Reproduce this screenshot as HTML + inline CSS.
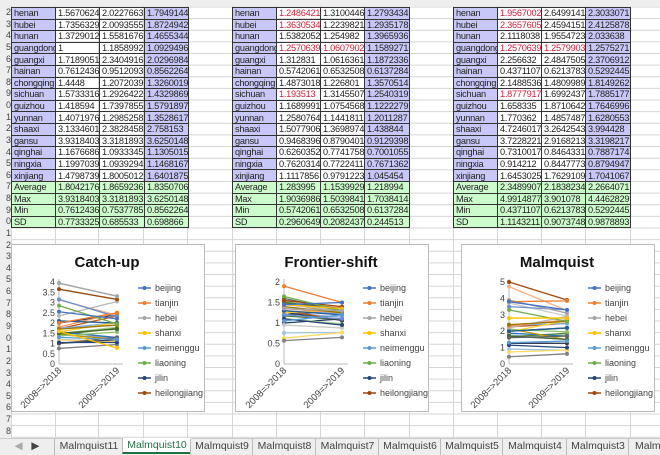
<!DOCTYPE html><html><head><meta charset="utf-8"><style>
body{margin:0;width:660px;height:454px;overflow:hidden;background:#fff;font-family:"Liberation Sans",sans-serif;position:relative}
.g{position:absolute;left:0;top:0}
table{position:absolute;border-collapse:collapse;font-size:9.2px;letter-spacing:-0.25px;color:#222;table-layout:fixed;width:177px}
td{border:1px solid #333;height:10.6px;padding:0 0 0 2px;line-height:10px;white-space:nowrap;overflow:hidden}
.p{background:#c8c8f8}.s{background:#ccfccc}.r{color:#d0203a}
.rn{position:absolute;left:0;width:11px;background:#eee;font-size:9px;color:#444;text-align:right;overflow:hidden}
.tabs{position:absolute;left:0;top:438px;width:660px;height:16px;background:#eeeeee;border-top:1px solid #ccc;font-size:10.5px;color:#444}
.tab{position:absolute;top:0;height:16px;line-height:15px;text-align:center;border-left:1px solid #bbb}
</style></head><body>
<svg class="g" width="660" height="454" id="grid"></svg>
<div id="rn"></div>

<table style="left:11px;top:7px"><colgroup><col style="width:44px"><col style="width:44px"><col style="width:45px"><col style="width:44px"></colgroup>
<tr><td class="p">henan</td><td>1.5670624</td><td>2.0227663</td><td class="p">1.7949144</td></tr>
<tr><td class="p">hubei</td><td>1.7356329</td><td>2.0093555</td><td class="p">1.8724942</td></tr>
<tr><td class="p">hunan</td><td>1.3729012</td><td>1.5581676</td><td class="p">1.4655344</td></tr>
<tr><td class="p">guangdong</td><td>1</td><td>1.1858992</td><td class="p">1.0929496</td></tr>
<tr><td class="p">guangxi</td><td>1.7189051</td><td>2.3404916</td><td class="p">2.0296984</td></tr>
<tr><td class="p">hainan</td><td>0.7612436</td><td>0.9512093</td><td class="p">0.8562264</td></tr>
<tr><td class="p">chongqing</td><td>1.4448</td><td>1.2072039</td><td class="p">1.3260019</td></tr>
<tr><td class="p">sichuan</td><td>1.5733316</td><td>1.2926422</td><td class="p">1.4329869</td></tr>
<tr><td class="p">guizhou</td><td>1.418594</td><td>1.7397855</td><td class="p">1.5791897</td></tr>
<tr><td class="p">yunnan</td><td>1.4071976</td><td>1.2985258</td><td class="p">1.3528617</td></tr>
<tr><td class="p">shaaxi</td><td>3.1334601</td><td>2.3828458</td><td class="p">2.758153</td></tr>
<tr><td class="p">gansu</td><td>3.9318403</td><td>3.3181893</td><td class="p">3.6250148</td></tr>
<tr><td class="p">qinghai</td><td>1.1676686</td><td>1.0933345</td><td class="p">1.1305015</td></tr>
<tr><td class="p">ningxia</td><td>1.1997039</td><td>1.0939294</td><td class="p">1.1468167</td></tr>
<tr><td class="p">xinjiang</td><td>1.4798739</td><td>1.8005012</td><td class="p">1.6401875</td></tr>
<tr class="s"><td>Average</td><td>1.8042176</td><td>1.8659236</td><td>1.8350706</td></tr>
<tr class="s"><td>Max</td><td>3.9318403</td><td>3.3181893</td><td>3.6250148</td></tr>
<tr class="s"><td>Min</td><td>0.7612436</td><td>0.7537785</td><td>0.8562264</td></tr>
<tr class="s"><td>SD</td><td>0.7733325</td><td>0.685533</td><td>0.698866</td></tr>
</table>

<table style="left:232px;top:7px"><colgroup><col style="width:44px"><col style="width:44px"><col style="width:44px"><col style="width:45px"></colgroup>
<tr><td class="p">henan</td><td class="r">1.2486421</td><td>1.3100446</td><td class="p">1.2793434</td></tr>
<tr><td class="p">hubei</td><td class="r">1.3630534</td><td>1.2239821</td><td class="p">1.2935178</td></tr>
<tr><td class="p">hunan</td><td>1.5382052</td><td>1.254982</td><td class="p">1.3965936</td></tr>
<tr><td class="p">guangdong</td><td class="r">1.2570639</td><td class="r">1.0607902</td><td class="p">1.1589271</td></tr>
<tr><td class="p">guangxi</td><td>1.312831</td><td>1.0616361</td><td class="p">1.1872336</td></tr>
<tr><td class="p">hainan</td><td>0.5742061</td><td>0.6532508</td><td class="p">0.6137284</td></tr>
<tr><td class="p">chongqing</td><td>1.4873018</td><td>1.226801</td><td class="p">1.3570514</td></tr>
<tr><td class="p">sichuan</td><td class="r">1.193513</td><td>1.3145507</td><td class="p">1.2540319</td></tr>
<tr><td class="p">guizhou</td><td>1.1689991</td><td>1.0754568</td><td class="p">1.1222279</td></tr>
<tr><td class="p">yunnan</td><td>1.2580764</td><td>1.1441811</td><td class="p">1.2011287</td></tr>
<tr><td class="p">shaaxi</td><td>1.5077906</td><td>1.3698974</td><td class="p">1.438844</td></tr>
<tr><td class="p">gansu</td><td>0.9468396</td><td>0.8790401</td><td class="p">0.9129398</td></tr>
<tr><td class="p">qinghai</td><td>0.6260352</td><td>0.7741758</td><td class="p">0.7001055</td></tr>
<tr><td class="p">ningxia</td><td>0.7620314</td><td>0.7722411</td><td class="p">0.7671362</td></tr>
<tr><td class="p">xinjiang</td><td>1.1117856</td><td>0.9791223</td><td class="p">1.045454</td></tr>
<tr class="s"><td>Average</td><td>1.283995</td><td>1.1539929</td><td>1.218994</td></tr>
<tr class="s"><td>Max</td><td>1.9036986</td><td>1.5039841</td><td>1.7038414</td></tr>
<tr class="s"><td>Min</td><td>0.5742061</td><td>0.6532508</td><td>0.6137284</td></tr>
<tr class="s"><td>SD</td><td>0.2960649</td><td>0.2082437</td><td>0.244513</td></tr>
</table>

<table style="left:453px;top:7px"><colgroup><col style="width:44px"><col style="width:44px"><col style="width:44px"><col style="width:45px"></colgroup>
<tr><td class="p">henan</td><td class="r">1.9567002</td><td>2.6499141</td><td class="p">2.3033071</td></tr>
<tr><td class="p">hubei</td><td class="r">2.3657605</td><td>2.4594151</td><td class="p">2.4125878</td></tr>
<tr><td class="p">hunan</td><td>2.1118038</td><td>1.9554723</td><td class="p">2.033638</td></tr>
<tr><td class="p">guangdong</td><td class="r">1.2570639</td><td class="r">1.2579903</td><td class="p">1.2575271</td></tr>
<tr><td class="p">guangxi</td><td>2.256632</td><td>2.4847505</td><td class="p">2.3706912</td></tr>
<tr><td class="p">hainan</td><td>0.4371107</td><td>0.6213783</td><td class="p">0.5292445</td></tr>
<tr><td class="p">chongqing</td><td>2.1488536</td><td>1.4809989</td><td class="p">1.8149262</td></tr>
<tr><td class="p">sichuan</td><td class="r">1.8777917</td><td>1.6992437</td><td class="p">1.7885177</td></tr>
<tr><td class="p">guizhou</td><td>1.658335</td><td>1.8710642</td><td class="p">1.7646996</td></tr>
<tr><td class="p">yunnan</td><td>1.770362</td><td>1.4857487</td><td class="p">1.6280553</td></tr>
<tr><td class="p">shaaxi</td><td>4.7246017</td><td>3.2642543</td><td class="p">3.994428</td></tr>
<tr><td class="p">gansu</td><td>3.7228221</td><td>2.9168213</td><td class="p">3.3198217</td></tr>
<tr><td class="p">qinghai</td><td>0.7310017</td><td>0.8464331</td><td class="p">0.7887174</td></tr>
<tr><td class="p">ningxia</td><td>0.914212</td><td>0.8447773</td><td class="p">0.8794947</td></tr>
<tr><td class="p">xinjiang</td><td>1.6453025</td><td>1.7629109</td><td class="p">1.7041067</td></tr>
<tr class="s"><td>Average</td><td>2.3489907</td><td>2.1838234</td><td>2.2664071</td></tr>
<tr class="s"><td>Max</td><td>4.9914877</td><td>3.901078</td><td>4.4462829</td></tr>
<tr class="s"><td>Min</td><td>0.4371107</td><td>0.6213783</td><td>0.5292445</td></tr>
<tr class="s"><td>SD</td><td>1.1143211</td><td>0.9073748</td><td>0.9878893</td></tr>
</table>

<svg class="g" width="660" height="454" id="ch" font-family="Liberation Sans, sans-serif"></svg>

<div class="tabs">
<div class="tab" style="left:0;width:54px;border:none;color:#aaa">&#9664;&nbsp;&nbsp;&nbsp;<span style="color:#444">&#9654;</span></div>
<div class="tab" style="left:54px;width:68px">Malmquist11</div>
<div class="tab" style="left:122px;width:68px;background:#fff;color:#217346;border-bottom:2px solid #217346;height:14px;top:-1px">Malmquist10</div>
<div class="tab" style="left:190px;width:62px">Malmquist9</div>
<div class="tab" style="left:252px;width:63px">Malmquist8</div>
<div class="tab" style="left:315px;width:63px">Malmquist7</div>
<div class="tab" style="left:378px;width:62px">Malmquist6</div>
<div class="tab" style="left:440px;width:62px">Malmquist5</div>
<div class="tab" style="left:502px;width:64px">Malmquist4</div>
<div class="tab" style="left:566px;width:62px">Malmquist3</div>
<div class="tab" style="left:628px;width:40px;text-align:left;padding-left:6px">Malm</div>
</div>

<script>
var NS="http://www.w3.org/2000/svg";
function el(p,t,a){var e=document.createElementNS(NS,t);for(var k in a)e.setAttribute(k,a[k]);p.appendChild(e);return e;}
var g=document.getElementById('grid');
var xs=[11,55,98,143,187,232,276,320,364,409,453,497,541,585,630];
xs.forEach(function(x){el(g,'line',{x1:x+.5,y1:0,x2:x+.5,y2:438,stroke:'#d6d6d6'});});
el(g,'rect',{x:0,y:0,width:660,height:6,fill:'#eee'});
for(var i=0;i<38;i++){var y=7+i*11.63;el(g,'line',{x1:0,y1:y,x2:660,y2:y,stroke:'#d6d6d6'});}
el(g,'rect',{x:0,y:0,width:11,height:438,fill:'#eee'});
var rn=document.getElementById('rn'),h='';
for(var i=0;i<37;i++){h+='<div class="rn" style="top:'+(7+i*11.63)+'px;height:11px;line-height:11px">'+((22+i)%10)+'</div>';}
rn.innerHTML=h;
var cols=['#4472C4','#ED7D31','#A5A5A5','#FFC000','#5B9BD5','#70AD47','#264478','#9E480E','#636363','#997300','#255E91','#43682B','#698ED0','#F1975A','#B7B7B7','#FFCD33','#7CAFDD','#8CC168','#333F50','#C55A11','#7F7F7F','#BF9000','#2E75B6','#548235','#8FAADC','#F4B183','#C9C9C9','#FFD966','#9DC3E6','#A9D18E','#1F3864'];
var s=document.getElementById('ch');
var charts=[
{x:11,t:'Catch-up',ax:59,bx:117,max:4,step:.5,lab:['0','0.5','1','1.5','2','2.5','3','3.5','4'],lx:138,
 d:[[2.55,2.2],[2.0,2.5],[3.95,3.3],[1.6,0.78],[1.3,1.2],[2.85,1.95],[1.05,1.05],[3.65,3.15],[1.0,1.3],[1.7,1.9],[2.1,2.0],[1.5,1.7],[3.15,2.3],[1.8,2.5],[2.35,3.05],[1.57,2.02],[1.74,2.01],[1.37,1.56],[1,1.19],[1.72,2.34],[.76,.95],[1.44,1.21],[1.57,1.29],[1.42,1.74],[1.41,1.3],[3.13,2.38],[3.93,3.32],[1.17,1.09],[1.2,1.09],[1.48,1.8],[2.0,2.4]]},
{x:235,t:'Frontier-shift',ax:284,bx:342,max:2,step:.5,lab:['0','0.5','1','1.5','2'],lx:363,
 d:[[1.45,1.5],[1.9,1.5],[1.35,1.3],[1.45,1.35],[1.05,1.2],[1.65,1.3],[1.1,.95],[1.55,1.4],[1.6,1.3],[1.4,1.25],[1.3,1.2],[1.5,1.35],[1.2,1.1],[1.35,1.25],[1.45,1.3],[1.25,1.31],[1.36,1.22],[1.54,1.25],[1.26,1.06],[1.31,1.06],[.57,.65],[1.49,1.23],[1.19,1.31],[1.17,1.08],[1.26,1.14],[1.51,1.37],[.95,.88],[.63,.77],[.76,.77],[1.11,.98],[1.0,1.1]]},
{x:461,t:'Malmquist',ax:509,bx:567,max:5,step:1,lab:['0','1','2','3','4','5'],lx:588,
 d:[[3.8,3.3],[3.8,3.85],[3.9,3.1],[2.8,2.8],[1.3,1.4],[3.3,2.6],[1.15,1.0],[5.0,3.9],[1.6,1.7],[2.4,2.6],[2.0,2.2],[1.7,1.5],[3.5,3.3],[2.3,2.7],[2.2,2.9],[1.96,2.65],[2.37,2.46],[2.11,1.96],[1.26,1.26],[2.26,2.48],[.44,.62],[2.15,1.48],[1.88,1.7],[1.66,1.87],[1.77,1.49],[4.72,3.26],[3.72,2.92],[.73,.85],[.91,.84],[1.65,1.76],[2.0,2.2]]}];
var names=['beijing','tianjin','hebei','shanxi','neimenggu','liaoning','jilin','heilongjiang'];
charts.forEach(function(c){
 el(s,'rect',{x:c.x+.5,y:244.5,width:193,height:167,fill:'#fff',stroke:'#bbb'});
 var t=el(s,'text',{x:c.x+96,y:267,'text-anchor':'middle','font-size':'15','font-weight':'bold',fill:'#111'});t.textContent=c.t;
 var y0=364,y1=282,sc=(y0-y1)/c.max;
 el(s,'line',{x1:c.ax,y1:y1-3,x2:c.ax,y2:y0,stroke:'#bbb'});
 el(s,'line',{x1:c.ax,y1:y0,x2:c.bx+6,y2:y0,stroke:'#bbb'});
 c.lab.forEach(function(l,i){var y=y0-i*c.step*sc;var e=el(s,'text',{x:c.ax-4,y:y+3,'text-anchor':'end','font-size':'9',fill:'#444'});e.textContent=l;});
 [[c.ax,'2008=>2018'],[c.bx,'2009=>2019']].forEach(function(p){var e=el(s,'text',{x:p[0]+3,y:y0+7,'text-anchor':'end','font-size':'9.5',fill:'#444',transform:'rotate(-45 '+(p[0]+3)+' '+(y0+7)+')'});e.textContent=p[1];});
 for(var i=c.d.length-1;i>=0;i--){var d=c.d[i],col=cols[i];
  var ya=y0-d[0]*sc,yb=y0-d[1]*sc;
  el(s,'line',{x1:c.ax,y1:ya,x2:c.bx,y2:yb,stroke:col,'stroke-width':1.3});
  el(s,'circle',{cx:c.ax,cy:ya,r:2,fill:col});el(s,'circle',{cx:c.bx,cy:yb,r:2,fill:col});}
 names.forEach(function(n,i){var y=288+i*15;
  el(s,'line',{x1:c.lx,y1:y,x2:c.lx+13,y2:y,stroke:cols[i],'stroke-width':1.5});
  el(s,'circle',{cx:c.lx+6.5,cy:y,r:2,fill:cols[i]});
  var e=el(s,'text',{x:c.lx+17,y:y+3,'font-size':'9',fill:'#444'});e.textContent=n;});
});
</script>
</body></html>
